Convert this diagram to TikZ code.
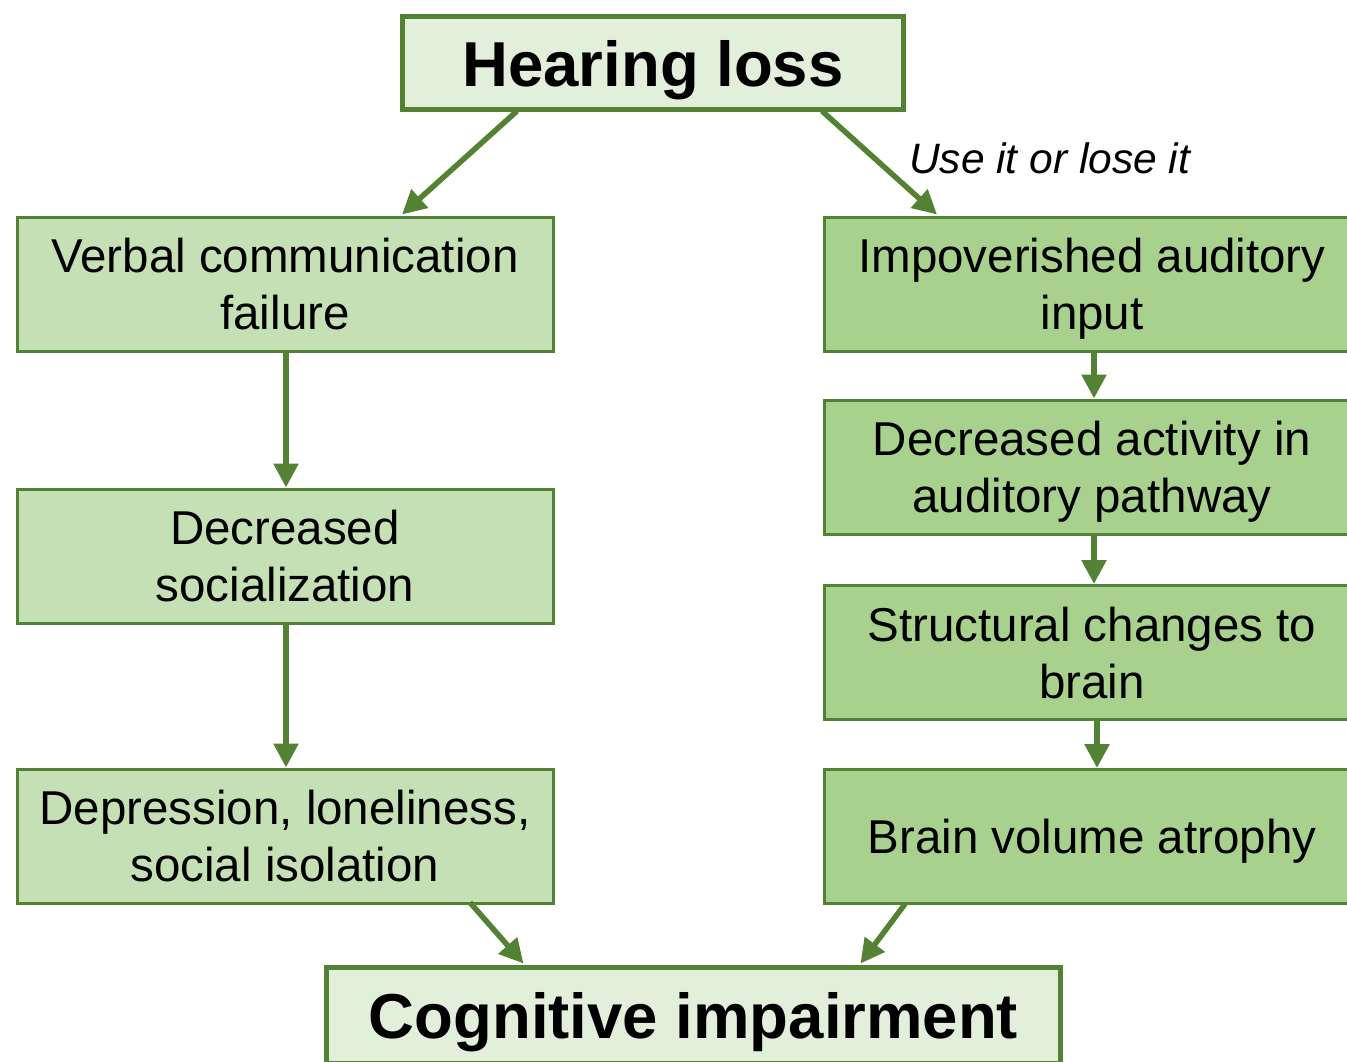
\documentclass[tikz,border=0pt]{standalone}
\usepackage{fontspec}
\setmainfont{Liberation Sans}
\usetikzlibrary{arrows.meta}
\definecolor{edgegreen}{HTML}{548235}
\definecolor{palefill}{HTML}{E2EFDA}
\definecolor{lightfill}{HTML}{C5E0B4}
\definecolor{midfill}{HTML}{A9D18E}
\tikzset{
  headbox/.style={draw=edgegreen, line width=5pt, fill=palefill, minimum width=501pt,
    minimum height=93pt, inner sep=0pt, align=center,
    font=\fontsize{63.5}{70}\selectfont\bfseries,
    execute at begin node={\rule{0pt}{60pt}},
    execute at end node={\rule[-10pt]{0pt}{10pt}}},
  plainbox/.style={draw=edgegreen, line width=3pt, minimum width=536pt,
    minimum height=134pt, inner sep=0pt, align=center, font=\fontsize{47.5}{57}\selectfont,
    execute at end node={\rule[-10pt]{0pt}{10pt}}},
  % struts keep the text block at a fixed height whatever the letters
  twolines/.style={plainbox, execute at begin node={\rule{0pt}{101pt}}},
  oneline/.style={plainbox, execute at begin node={\rule{0pt}{44pt}}},
  leftbox/.style={twolines, fill=lightfill},
  rightbox/.style={twolines, fill=midfill},
  rightsingle/.style={oneline, fill=midfill},
  flow/.style={draw=edgegreen, line width=5.5pt, -{Triangle[length=24pt,width=24pt]}},
}
\begin{document}
\begin{tikzpicture}[x=1pt,y=-1pt]
\useasboundingbox (0,0) rectangle (1347,1061);
% top and bottom boxes
\node[headbox] (hear) at (653,63) {Hearing loss};
\node[headbox, minimum width=734pt, minimum height=96pt] (cog) at (693.5,1015) {Cognitive impairment};
% left column
\node[leftbox] (verbal) at (285,284) {Verbal communication\\failure};
\node[leftbox] (social) at (285,556) {Decreased\\socialization};
\node[leftbox] (depress) at (285,836) {Depression, loneliness,\\social isolation};
% right column
\node[rightbox] (impov) at (1092,284) {Impoverished auditory\\input};
\node[rightbox] (activity) at (1092,467) {Decreased activity in\\auditory pathway};
\node[rightbox] (struct) at (1092,652.5) {Structural changes to\\brain};
\node[rightsingle] (atrophy) at (1092,836.5) {Brain volume atrophy};
% label
\node[font=\fontsize{42.5}{50}\selectfont\itshape, anchor=west, inner sep=0pt] (motto) at (909,158) {Use it or lose it};
% connectors
\draw[flow] ([xshift=-136pt,yshift=1pt]hear.south) -- ([xshift=117pt,yshift=1pt]verbal.north);
\draw[flow] ([xshift=169pt,yshift=1pt]hear.south) -- ([xshift=-155pt,yshift=1pt]impov.north);
\draw[flow] ([xshift=1pt]verbal.south) -- ([xshift=1pt]social.north);
\draw[flow] ([xshift=1pt]social.south) -- ([xshift=1pt]depress.north);
\draw[flow] ([xshift=2pt]impov.south) -- ([xshift=2pt]activity.north);
\draw[flow] ([xshift=2pt]activity.south) -- ([xshift=2pt]struct.north);
\draw[flow] ([xshift=5pt]struct.south) -- ([xshift=5pt]atrophy.north);
\draw[flow] ([xshift=185pt,yshift=2pt]depress.south) -- ([xshift=-170pt,yshift=1pt]cog.north);
\draw[flow] ([xshift=-187pt,yshift=1pt]atrophy.south) -- ([xshift=167pt,yshift=1pt]cog.north);
\end{tikzpicture}
\end{document}
